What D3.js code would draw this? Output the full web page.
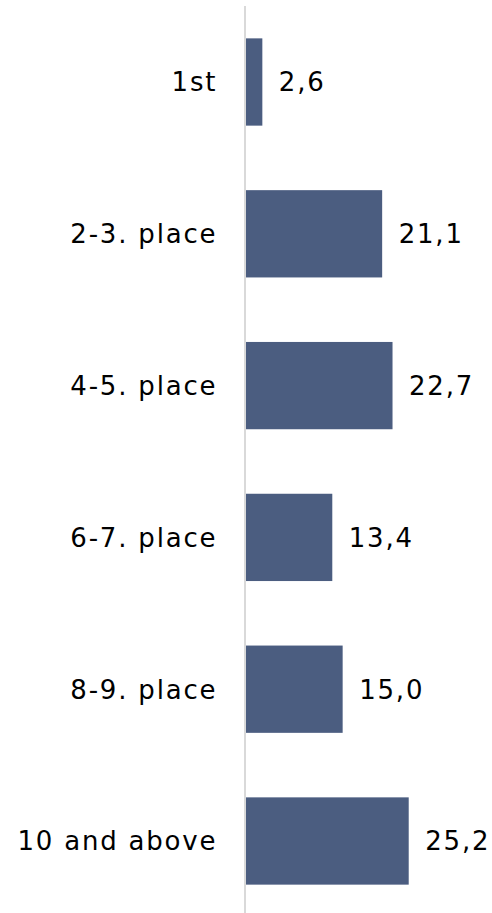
<!DOCTYPE html>
<html><head><meta charset="utf-8">
<script src="https://cdn.jsdelivr.net/npm/d3@7"></script>
<style>body{margin:0;background:#fff}svg{display:block}</style>
</head><body>
<script>
const categories = ["1st","2-3. place","4-5. place","6-7. place","8-9. place","10 and above"];
const values = [2.6, 21.1, 22.7, 13.4, 15.0, 25.2];
const valueLabels = ["2,6","21,1","22,7","13,4","15,0","25,2"];

const W = 492, H = 913;
const svg = d3.select("body").append("svg").attr("width", W).attr("height", H);
const x0 = 245.5;
const x = d3.scaleLinear().domain([0, 30]).range([x0, x0 + 194.3]);
const y = d3.scaleBand().domain(categories).range([8, 915]).paddingInner(0.425).paddingOuter(0.2);
const font = "'DejaVu Sans', Verdana, sans-serif";
const ls = 1.8;

svg.selectAll("rect.bar").data(values).join("rect")
  .attr("class","bar")
  .attr("x", x(0))
  .attr("y", (d,i) => y(categories[i]))
  .attr("width", d => x(d) - x(0))
  .attr("height", y.bandwidth())
  .attr("fill", "#4b5d80");

svg.append("line").attr("x1", x0 - 0.5).attr("x2", x0 - 0.5).attr("y1", 6).attr("y2", H)
  .attr("stroke", "#d9d9d9").attr("stroke-width", 2);

svg.selectAll("text.cat").data(categories).join("text")
  .attr("class","cat")
  .attr("x", x0 - 30 + ls)
  .attr("y", d => y(d) + y.bandwidth()/2)
  .attr("dy", "0.36em")
  .attr("text-anchor", "end")
  .attr("letter-spacing", ls)
  .attr("font-family", font).attr("font-size", 26).attr("fill", "#000")
  .text(d => d);

svg.selectAll("text.val").data(values).join("text")
  .attr("class","val")
  .attr("x", d => x(d) + 16.5)
  .attr("y", (d,i) => y(categories[i]) + y.bandwidth()/2)
  .attr("dy", "0.36em")
  .attr("letter-spacing", ls)
  .attr("font-family", font).attr("font-size", 26).attr("fill", "#000")
  .text((d,i) => valueLabels[i]);
</script>
</body></html>
